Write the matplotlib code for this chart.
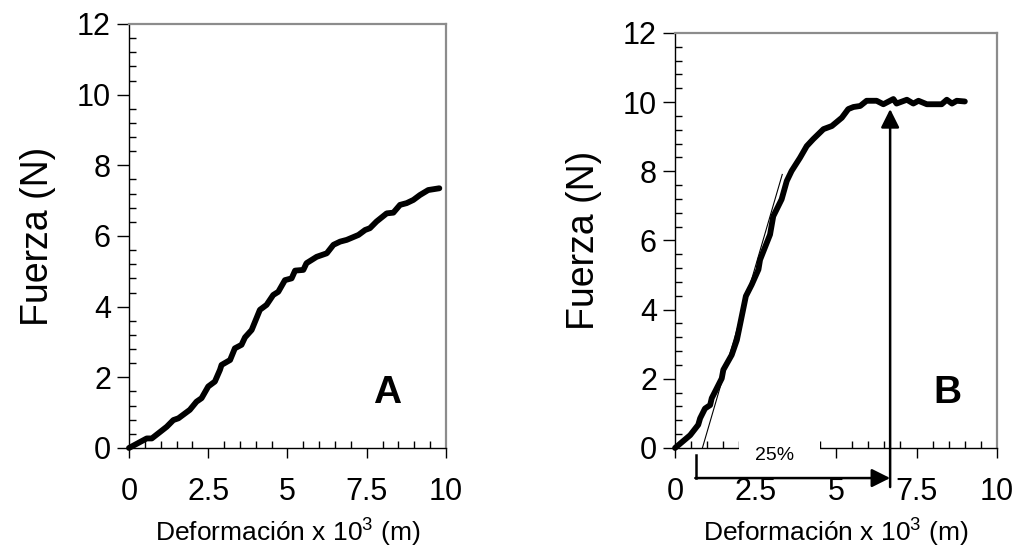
import matplotlib
matplotlib.use("Agg")
import matplotlib.pyplot as plt
from matplotlib.ticker import MultipleLocator
from matplotlib.patches import Rectangle

plt.rcParams['font.family'] = ['Liberation Sans', 'DejaVu Sans']

# panel A: force vs deformation
defo_a = [0, 0.56, 0.72, 1.19, 1.40, 1.56, 1.92, 2.13, 2.29, 2.50, 2.71, 2.87, 2.92,
          3.19, 3.34, 3.55, 3.66, 3.87, 4.13, 4.34, 4.55, 4.71, 4.92, 5.13, 5.24,
          5.50, 5.60, 5.92, 6.24, 6.45, 6.66, 6.87, 7.24, 7.45, 7.60, 7.81, 8.13,
          8.34, 8.55, 8.76, 8.97, 9.18, 9.44, 9.79]
fuerza_a = [0, 0.27, 0.27, 0.60, 0.79, 0.84, 1.08, 1.31, 1.41, 1.74, 1.88, 2.21, 2.35,
            2.49, 2.82, 2.92, 3.13, 3.34, 3.91, 4.05, 4.33, 4.42, 4.75, 4.80, 5.02,
            5.04, 5.23, 5.41, 5.51, 5.75, 5.84, 5.89, 6.03, 6.17, 6.22, 6.41, 6.64,
            6.66, 6.88, 6.93, 7.02, 7.16, 7.30, 7.35]

# panel B
defo_b = [0, 0.47, 0.72, 0.78, 0.93, 1.09, 1.14, 1.45, 1.50, 1.76, 1.92, 2.20, 2.38,
          2.59, 2.64, 2.95, 3.05, 3.31, 3.47, 3.62, 3.88, 4.09, 4.29, 4.61, 4.87,
          5.18, 5.38, 5.54, 5.75, 5.95, 6.26, 6.47, 6.78, 6.88, 7.20, 7.40, 7.56,
          7.82, 8.28, 8.44, 8.60, 8.75, 9.00]
fuerza_b = [0, 0.37, 0.67, 0.86, 1.14, 1.24, 1.44, 2.01, 2.26, 2.69, 3.12, 4.39, 4.72,
            5.16, 5.44, 6.17, 6.70, 7.19, 7.72, 8.01, 8.39, 8.73, 8.93, 9.22, 9.31,
            9.55, 9.80, 9.86, 9.89, 10.04, 10.04, 9.94, 10.09, 9.96, 10.07, 9.96, 10.04,
            9.94, 9.94, 10.07, 9.96, 10.04, 10.02]

# tangent line and 25% arrow in B
tang_x = [0.85, 3.33]
tang_y = [0, 7.91]
arrow_x0 = 0.66
arrow_x1 = 6.68
arrow_y = -0.87
arrow_top = 9.8

fig = plt.figure(figsize=(10.18, 5.5), dpi=100)
ax_a = fig.add_axes([0.1267, 0.1855, 0.3114, 0.7709])
ax_b = fig.add_axes([0.6631, 0.1855, 0.3163, 0.7545])


def style_axes(ax):
    ax.set_xlim(0, 10)
    ax.set_ylim(0, 12)
    ax.xaxis.set_minor_locator(MultipleLocator(0.5))
    ax.yaxis.set_major_locator(MultipleLocator(2))
    ax.yaxis.set_minor_locator(MultipleLocator(0.4))
    ax.set_xticks([0, 2.5, 5, 7.5, 10])
    ax.set_xticklabels(['0', '2.5', '5', '7.5', '10'])
    ax.tick_params(axis='x', which='major', direction='out', length=7, width=1,
                   labelsize=22, pad=14)
    ax.tick_params(axis='y', which='major', direction='out', length=9, width=1,
                   labelsize=22, pad=4)
    ax.tick_params(which='minor', direction='in', length=5, width=1)
    for s in ['top', 'right']:
        ax.spines[s].set_color('#8c8c8c')
        ax.spines[s].set_linewidth(1.6)
    for s in ['left', 'bottom']:
        ax.spines[s].set_color('black')
        ax.spines[s].set_linewidth(1)
    ax.set_ylabel('Fuerza (N)', fontsize=27, labelpad=15)
    ax.set_xlabel(r'Deformación x 10$^{\mathregular{3}}$ (m)', fontsize=19, labelpad=6)


style_axes(ax_a)
style_axes(ax_b)

ax_a.plot(defo_a, fuerza_a, color='black', lw=4.2, solid_joinstyle='round',
          solid_capstyle='round', clip_on=False, zorder=5)
ax_a.text(8.15, 1.55, 'A', fontsize=28, fontweight='bold', ha='center', va='center')

ax_b.plot(defo_b, fuerza_b, color='black', lw=4.2, solid_joinstyle='round',
          solid_capstyle='round', clip_on=False, zorder=5)
ax_b.plot(tang_x, tang_y, color='black', lw=0.8, zorder=6)
ax_b.text(8.45, 1.6, 'B', fontsize=28, fontweight='bold', ha='center', va='center')

# white gap in the x axis where "25%" sits
ax_b.add_patch(Rectangle((2.0, -0.45), 2.5, 0.75, facecolor='white', edgecolor='none',
                         clip_on=False, zorder=7))
ax_b.text(3.1, -0.22, '25%', fontsize=14, ha='center', va='center', zorder=8)

# bracket arrow along bottom
ax_b.plot([arrow_x0, arrow_x0], [-0.2, arrow_y], color='black', lw=1.8,
          clip_on=False, zorder=8)
ax_b.annotate('', xy=(arrow_x1, arrow_y), xytext=(arrow_x0 - 0.03, arrow_y),
              arrowprops=dict(arrowstyle='-|>,head_length=0.8,head_width=0.4',
                              mutation_scale=14, color='black', lw=1.8,
                              shrinkA=0, shrinkB=0),
              annotation_clip=False, zorder=8)
ax_b.annotate('', xy=(arrow_x1, arrow_top), xytext=(arrow_x1, -1.13),
              arrowprops=dict(arrowstyle='-|>,head_length=0.8,head_width=0.4',
                              mutation_scale=14, color='black', lw=1.8,
                              shrinkA=0, shrinkB=0),
              annotation_clip=False, zorder=8)

fig.savefig('out.png', dpi=100)
